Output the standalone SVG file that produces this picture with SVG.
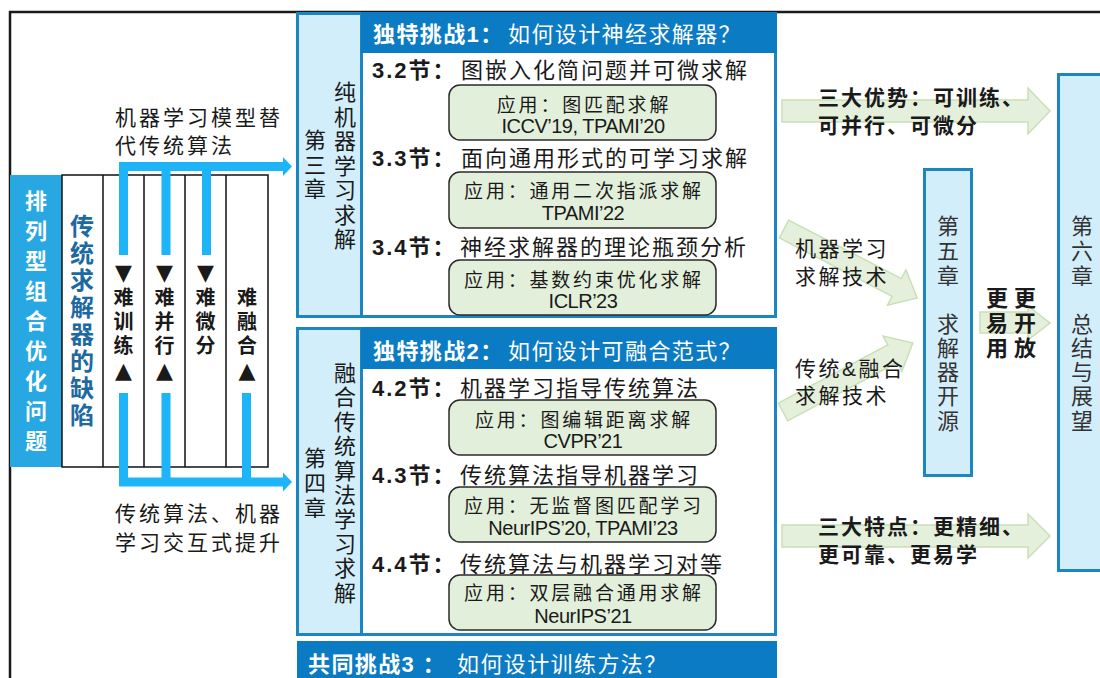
<svg xmlns="http://www.w3.org/2000/svg" width="1100" height="678" viewBox="0 0 1100 678">
<defs>
<style>
text{font-family:'Liberation Sans','Noto Sans CJK SC',sans-serif;fill:#1a1a1a}
.t21{font-size:22px;letter-spacing:2px}
.b{font-weight:bold}
.hdr{font-size:22px;letter-spacing:1.4px;fill:#fff}
.app{fill:#E2EFDA;stroke:#2a2a2a;stroke-width:1.5}
.apt{font-size:19px;letter-spacing:2.8px;text-anchor:middle}
.apl{font-size:20px;letter-spacing:-0.5px;text-anchor:middle}
.chbox{fill:#fff;stroke:#1B86C2;stroke-width:3}
.lb{fill:#D3EEFB}
.hd{fill:#0B7BC3}
.ga{fill:#E4F0DB;stroke:#C8E0B6;stroke-width:1.5}
.vt{font-size:22px;text-anchor:middle}
.bar{fill:none;stroke:#1DB4F8;stroke-width:9}
.tri{font-family:'DejaVu Sans',sans-serif;font-size:22px;text-anchor:middle}
.col{font-size:20px;font-weight:bold;text-anchor:middle}
.grid{fill:#fff;stroke:#111;stroke-width:1.5}
</style>
</defs>
<rect width="1100" height="678" fill="#fff"/>
<!-- outer frame -->
<path d="M10,680 V12 H1102" fill="none" stroke="#1a1a1a" stroke-width="2.5"/>

<!-- left: problem and defects table -->
<g id="problem">
<rect x="10" y="175" width="52" height="292" fill="#27A8E3"/>
<text class="b" style="font-size:22px;fill:#fff;text-anchor:middle"><tspan x="36" y="209">排</tspan><tspan x="36" y="239">列</tspan><tspan x="36" y="269">型</tspan><tspan x="36" y="299">组</tspan><tspan x="36" y="329">合</tspan><tspan x="36" y="359">优</tspan><tspan x="36" y="389">化</tspan><tspan x="36" y="419">问</tspan><tspan x="36" y="449">题</tspan></text>
</g>
<g id="defects">
<rect class="grid" x="62" y="175" width="206" height="292"/>
<path d="M103,175V467M144,175V467M185,175V467M226,175V467" stroke="#111" stroke-width="1.5"/>
<text class="b" style="font-size:24px;fill:#1D6AA0;text-anchor:middle"><tspan x="82" y="235">传</tspan><tspan x="82" y="262">统</tspan><tspan x="82" y="289">求</tspan><tspan x="82" y="316">解</tspan><tspan x="82" y="343">器</tspan><tspan x="82" y="370">的</tspan><tspan x="82" y="397">缺</tspan><tspan x="82" y="424">陷</tspan></text>
</g>
<g id="hard-train">
<text class="tri" x="123.5" y="280">▼</text>
<text class="col"><tspan x="123.5" y="304.6">难</tspan><tspan x="123.5" y="328.6">训</tspan><tspan x="123.5" y="352.6">练</tspan></text>
<text class="tri" x="123.5" y="378">▲</text>
</g>
<g id="hard-parallel">
<text class="tri" x="164.5" y="280">▼</text>
<text class="col"><tspan x="164.5" y="304.6">难</tspan><tspan x="164.5" y="328.6">并</tspan><tspan x="164.5" y="352.6">行</tspan></text>
<text class="tri" x="164.5" y="378">▲</text>
</g>
<g id="hard-diff">
<text class="tri" x="205.5" y="280">▼</text>
<text class="col"><tspan x="205.5" y="304.6">难</tspan><tspan x="205.5" y="328.6">微</tspan><tspan x="205.5" y="352.6">分</tspan></text>
</g>
<g id="hard-fuse">
<text class="col"><tspan x="247" y="304.6">难</tspan><tspan x="247" y="328.6">融</tspan><tspan x="247" y="352.6">合</tspan></text>
<text class="tri" x="247" y="378">▲</text>
</g>

<!-- connectors -->
<g id="connectors">
<path class="bar" d="M123.5,255V166.5H284M166,255V166.5M206.5,255V166.5"/>
<polygon points="283,157 292,166.5 283,176" fill="#1DB4F8"/>
<path class="bar" d="M123.5,393V482H284M166,393V482M246.5,393V482"/>
<polygon points="283,472.5 292,482 283,491.5" fill="#1DB4F8"/>
<polygon class="ga" points="782,100 1028,100 1028,88 1050,111 1028,134 1028,122 782,122"/>
<polygon class="ga" points="782,525 1028,525 1028,514 1050,536 1028,558 1028,547 782,547"/>
<polygon class="ga" points="980,312 1028,312 1028,306 1050,323 1028,340 1028,333 980,333"/>
<polygon class="ga" transform="translate(784,229) rotate(27.4)" points="0,-10 127,-10 127,-20 150,0 127,20 127,10 0,10"/>
<polygon class="ga" transform="translate(783,412) rotate(-28)" points="0,-10 124,-10 124,-20 147,0 124,20 124,10 0,10"/>
</g>

<g id="label-ml-replace">
<text style="font-size:21px;letter-spacing:3px"><tspan x="115" y="125">机器学习模型替</tspan><tspan x="115" y="153">代传统算法</tspan></text>
</g>
<g id="label-interact">
<text style="font-size:21px;letter-spacing:3px"><tspan x="115" y="521">传统算法、机器</tspan><tspan x="115" y="550">学习交互式提升</tspan></text>
</g>

<!-- chapter 3 -->
<g id="chapter3">
<rect class="chbox" x="297.5" y="13.5" width="478" height="303"/>
<rect class="lb" x="299" y="15" width="62" height="300"/>
<line x1="361.5" y1="13" x2="361.5" y2="316" stroke="#1B86C2" stroke-width="3"/>
<rect class="hd" x="361" y="12" width="416" height="41"/>
<text class="hdr" y="42"><tspan x="373" class="b">独特挑战1：</tspan><tspan x="508">如何设计神经求解器？</tspan></text>
<text class="vt"><tspan x="315" y="148">第</tspan><tspan x="315" y="172.5">三</tspan><tspan x="315" y="197">章</tspan></text>
<text class="vt"><tspan x="345" y="100">纯</tspan><tspan x="345" y="124.5">机</tspan><tspan x="345" y="149">器</tspan><tspan x="345" y="173.5">学</tspan><tspan x="345" y="198">习</tspan><tspan x="345" y="222.5">求</tspan><tspan x="345" y="247">解</tspan></text>
<text class="t21 b" x="372" y="78">3.2节：</text>
<text class="t21" x="461" y="78">图嵌入化简问题并可微求解</text>
<rect class="app" x="449" y="85" width="267" height="55" rx="11"/>
<text class="apt" x="584" y="112">应用：图匹配求解</text>
<text class="apl" x="583" y="133">ICCV’19, TPAMI’20</text>
<text class="t21 b" x="372" y="166">3.3节：</text>
<text class="t21" x="461" y="166">面向通用形式的可学习求解</text>
<rect class="app" x="449" y="172" width="267" height="56" rx="11"/>
<text class="apt" x="584" y="198">应用：通用二次指派求解</text>
<text class="apl" x="583" y="220">TPAMI’22</text>
<text class="t21 b" x="372" y="255">3.4节：</text>
<text class="t21" x="460" y="255">神经求解器的理论瓶颈分析</text>
<rect class="app" x="449" y="260" width="267" height="55" rx="11"/>
<text class="apt" x="584" y="287">应用：基数约束优化求解</text>
<text class="apl" x="583" y="308">ICLR’23</text>
</g>

<!-- chapter 4 -->
<g id="chapter4">
<rect class="chbox" x="297.5" y="328.5" width="478" height="306"/>
<rect class="lb" x="299" y="330" width="62" height="303"/>
<line x1="361.5" y1="328" x2="361.5" y2="634" stroke="#1B86C2" stroke-width="3"/>
<rect class="hd" x="361" y="327" width="416" height="42"/>
<text class="hdr" y="359"><tspan x="373" class="b">独特挑战2：</tspan><tspan x="508">如何设计可融合范式？</tspan></text>
<text class="vt"><tspan x="315" y="466">第</tspan><tspan x="315" y="491">四</tspan><tspan x="315" y="516">章</tspan></text>
<text class="vt"><tspan x="345" y="381">融</tspan><tspan x="345" y="405.4">合</tspan><tspan x="345" y="429.8">传</tspan><tspan x="345" y="454.2">统</tspan><tspan x="345" y="478.6">算</tspan><tspan x="345" y="503">法</tspan><tspan x="345" y="527.4">学</tspan><tspan x="345" y="551.8">习</tspan><tspan x="345" y="576.2">求</tspan><tspan x="345" y="600.6">解</tspan></text>
<text class="t21 b" x="372" y="396">4.2节：</text>
<text class="t21" x="460" y="396">机器学习指导传统算法</text>
<rect class="app" x="449" y="400" width="267" height="55" rx="11"/>
<text class="apt" x="584" y="427">应用：图编辑距离求解</text>
<text class="apl" x="583" y="448">CVPR’21</text>
<text class="t21 b" x="372" y="483">4.3节：</text>
<text class="t21" x="460" y="483">传统算法指导机器学习</text>
<rect class="app" x="449" y="487" width="267" height="55" rx="11"/>
<text class="apt" x="584" y="513">应用：无监督图匹配学习</text>
<text class="apl" x="583" y="535">NeurIPS’20, TPAMI’23</text>
<text class="t21 b" x="372" y="572">4.4节：</text>
<text class="t21" x="460" y="572">传统算法与机器学习对等</text>
<rect class="app" x="449" y="575" width="267" height="55" rx="11"/>
<text class="apt" x="584" y="600">应用：双层融合通用求解</text>
<text class="apl" x="583" y="623">NeurIPS’21</text>
</g>

<!-- shared challenge 3 -->
<g id="challenge3">
<rect class="hd" x="297" y="641" width="480" height="40"/>
<text class="hdr" y="672"><tspan x="308" class="b">共同挑战3 ：</tspan><tspan x="457">如何设计训练方法？</tspan></text>
</g>

<!-- arrow labels -->
<g id="label-advantages">
<text class="b" style="font-size:21px;letter-spacing:2px"><tspan x="818" y="105">三大优势：可训练、</tspan><tspan x="818" y="133">可并行、可微分</tspan></text>
</g>
<g id="label-ml-tech">
<text style="font-size:21px;letter-spacing:2.5px"><tspan x="795" y="256">机器学习</tspan><tspan x="795" y="284">求解技术</tspan></text>
</g>
<g id="label-fuse-tech">
<text style="font-size:21px;letter-spacing:2.5px"><tspan x="795" y="376">传统&amp;融合</tspan><tspan x="795" y="403">求解技术</tspan></text>
</g>
<g id="label-features">
<text class="b" style="font-size:21px;letter-spacing:2px"><tspan x="818" y="534">三大特点：更精细、</tspan><tspan x="818" y="562">更可靠、更易学</tspan></text>
</g>
<g id="label-open">
<text class="vt b"><tspan x="997" y="306">更</tspan><tspan x="997" y="331">易</tspan><tspan x="997" y="356">用</tspan></text>
<text class="vt b"><tspan x="1025" y="306">更</tspan><tspan x="1025" y="331">开</tspan><tspan x="1025" y="356">放</tspan></text>
</g>

<!-- chapter 5 -->
<g id="chapter5">
<rect x="924.5" y="169.5" width="47" height="306" fill="#D3EEFB" stroke="#1B86C2" stroke-width="3"/>
<text class="vt" style="fill:#333"><tspan x="948" y="234">第</tspan><tspan x="948" y="259">五</tspan><tspan x="948" y="284">章</tspan><tspan x="948" y="332">求</tspan><tspan x="948" y="356">解</tspan><tspan x="948" y="380">器</tspan><tspan x="948" y="404">开</tspan><tspan x="948" y="429">源</tspan></text>
</g>

<!-- chapter 6 -->
<g id="chapter6">
<rect x="1058.5" y="74.5" width="50" height="496" fill="#D3EEFB" stroke="#1B86C2" stroke-width="3"/>
<text class="vt" style="fill:#333"><tspan x="1082" y="234">第</tspan><tspan x="1082" y="259">六</tspan><tspan x="1082" y="284">章</tspan><tspan x="1082" y="332">总</tspan><tspan x="1082" y="356">结</tspan><tspan x="1082" y="380">与</tspan><tspan x="1082" y="404">展</tspan><tspan x="1082" y="429">望</tspan></text>
</g>
</svg>
